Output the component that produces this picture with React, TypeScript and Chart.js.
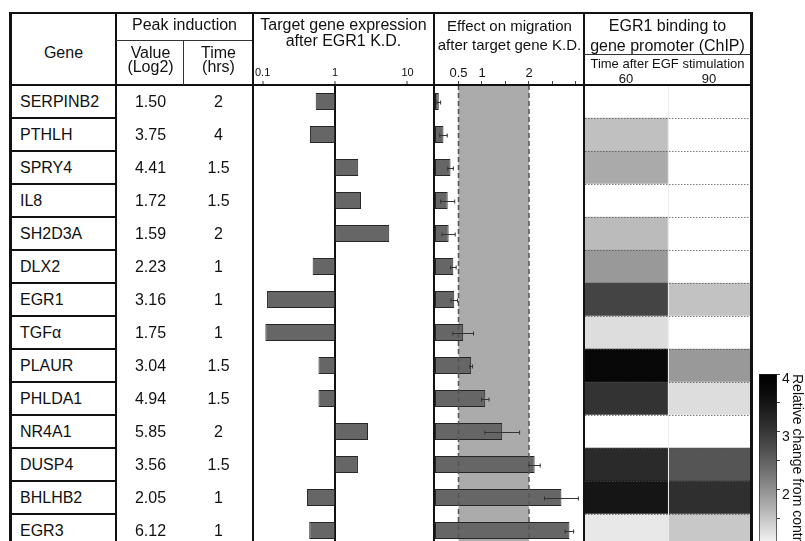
import React, { useEffect, useRef } from 'react';
import { Chart, registerables } from 'chart.js';

Chart.register(...registerables);

const FONT = "'Liberation Sans', Arial, Helvetica, sans-serif";
Chart.defaults.font.family = FONT;
Chart.defaults.color = '#111';

// ---------------- data ----------------
const genes = ['SERPINB2', 'PTHLH', 'SPRY4', 'IL8', 'SH2D3A', 'DLX2', 'EGR1', 'TGFα', 'PLAUR', 'PHLDA1', 'NR4A1', 'DUSP4', 'BHLHB2', 'EGR3'];
const peakValues = [1.5, 3.75, 4.41, 1.72, 1.59, 2.23, 3.16, 1.75, 3.04, 4.94, 5.85, 3.56, 2.05, 6.12];
const peakTimes = [2, 4, 1.5, 1.5, 2, 1, 1, 1, 1.5, 1.5, 2, 1.5, 1, 1];

// target gene expression after EGR1 K.D. (fold, log axis, bars from 1)
const expression = [0.54, 0.45, 2.09, 2.28, 5.6, 0.49, 0.115, 0.109, 0.59, 0.59, 2.85, 2.07, 0.41, 0.44];
const expressionBase = 1;
const expressionTicks = [0.1, 1, 10];

// effect on migration after target gene K.D.
const migration = [0.08, 0.18, 0.33, 0.27, 0.29, 0.39, 0.41, 0.6, 0.77, 1.07, 1.43, 2.12, 2.69, 2.86];
const migrationErr = [0.04, 0.08, 0.06, 0.15, 0.14, 0.06, 0.07, 0.22, 0.03, 0.08, 0.37, 0.12, 0.36, 0.09];
const migrationTicks = [0.5, 1, 1.5, 2, 2.5, 3];
const migrationLabels = [0.5, 1, 2];
const migrationBand = [0.5, 2];

// EGR1 binding (ChIP), relative change from control
const chipTimes = ['60', '90'];
const chip60 = [1, 1.55, 1.75, 1, 1.6, 1.92, 2.83, 1.29, 3.75, 3.05, 1, 3.17, 3.5, 1.2];
const chip90 = [1, 1, 1, 1, 1, 1, 1.53, 1, 1.92, 1.29, 1, 2.63, 3.1, 1.48];
const colorbarRange = [1, 4];
const colorbarTicks = [1, 1.5, 2, 2.5, 3, 3.5, 4];
const colorbarLabels = [1, 2, 3, 4];

// ---------------- helpers ----------------
const GAMMA = 1.4;
function grayLevel(v: number) {
  const t = Math.min(1, Math.max(0, (colorbarRange[1] - v) / (colorbarRange[1] - colorbarRange[0])));
  return Math.round(255 * Math.pow(t, GAMMA));
}
function gray(v: number) {
  const g = grayLevel(v);
  return `rgb(${g},${g},${g})`;
}

function ChartBox({ left, top, width, height, make }: any) {
  const ref = useRef<HTMLCanvasElement>(null);
  useEffect(() => {
    let chart: any = null;
    try {
      chart = new Chart(ref.current as HTMLCanvasElement, make());
    } catch (e) {
      console.error(e);
    }
    return () => {
      if (chart) chart.destroy();
    };
  }, []);
  return (
    <canvas
      ref={ref}
      width={width}
      height={height}
      style={{ position: 'absolute', left, top, width, height, display: 'block' }}
    />
  );
}

function Txt({ cx, x, cy, size = 16, lh = 16, children, align }: any) {
  const capOff = (lh - size * 1.117) / 2 + size * 0.905 - size * 0.358;
  const top = cy - capOff;
  if (align === 'left') {
    return (
      <div style={{ position: 'absolute', left: x, top, fontSize: size, lineHeight: `${lh}px`, whiteSpace: 'nowrap' }}>
        {children}
      </div>
    );
  }
  return (
    <div
      style={{
        position: 'absolute',
        left: cx - 150,
        width: 300,
        top,
        fontSize: size,
        lineHeight: `${lh}px`,
        textAlign: 'center',
        whiteSpace: 'nowrap',
      }}
    >
      {children}
    </div>
  );
}

function Rule({ l, t, w, h, c = '#111' }: any) {
  return <div style={{ position: 'absolute', left: l, top: t, width: w, height: h, background: c }} />;
}

const noPlugins = { legend: { display: false }, tooltip: { enabled: false }, title: { display: false } };

// ---------------- chart configs ----------------
function makeExpression() {
  return {
    type: 'bar',
    data: {
      labels: genes,
      datasets: [
        {
          data: expression.map((v) => [expressionBase, v]),
          backgroundColor: '#666666',
          borderColor: '#262626',
          borderWidth: 1,
          borderSkipped: false,
          barPercentage: 0.52,
          categoryPercentage: 1,
        },
      ],
    },
    options: {
      indexAxis: 'y',
      animation: false,
      responsive: false,
      events: [],
      layout: { padding: 0 },
      plugins: noPlugins,
      scales: {
        x: {
          type: 'logarithmic',
          position: 'top',
          min: 0.0763,
          max: 22.5,
          afterBuildTicks: (s: any) => {
            s.ticks = expressionTicks.map((v) => ({ value: v }));
          },
          afterFit: (s: any) => {
            s.height = 30;
          },
          ticks: {
            callback: (v: any) => String(v),
            font: { size: 11 },
            color: '#111',
            padding: 1,
            autoSkip: false,
            maxRotation: 0,
          },
          grid: {
            color: (ctx: any) => (ctx.tick && ctx.tick.value === expressionBase ? '#111' : 'rgba(0,0,0,0)'),
            lineWidth: 2,
            tickColor: '#333',
            tickLength: 4,
            tickWidth: 1,
          },
          border: { display: true, color: '#111', width: 2 },
        },
        y: { type: 'category', display: false },
      },
    },
  };
}

const migrationDecor = {
  id: 'migrationDecor',
  beforeDatasetsDraw(chart: any) {
    const { ctx, chartArea, scales } = chart;
    const x = scales.x;
    const x0 = x.getPixelForValue(migrationBand[0]);
    const x1 = x.getPixelForValue(migrationBand[1]);
    ctx.save();
    ctx.fillStyle = '#ababab';
    ctx.fillRect(x0, chartArea.top, x1 - x0, chartArea.bottom - chartArea.top);
    ctx.restore();
  },
  afterDatasetsDraw(chart: any) {
    const { ctx, chartArea, scales } = chart;
    const x = scales.x;
    ctx.save();
    ctx.strokeStyle = '#555';
    ctx.lineWidth = 1.5;
    ctx.setLineDash([5, 3]);
    migrationBand.forEach((v) => {
      const px = x.getPixelForValue(v);
      ctx.beginPath();
      ctx.moveTo(px, chartArea.top);
      ctx.lineTo(px, chartArea.bottom);
      ctx.stroke();
    });
    ctx.setLineDash([]);
    ctx.strokeStyle = '#333';
    ctx.lineWidth = 1;
    const meta = chart.getDatasetMeta(0);
    meta.data.forEach((bar: any, i: number) => {
      const y = Math.round(bar.y) + 0.5;
      const xl = x.getPixelForValue(migration[i] - migrationErr[i]);
      const xr = x.getPixelForValue(migration[i] + migrationErr[i]);
      ctx.beginPath();
      ctx.moveTo(xl, y);
      ctx.lineTo(xr, y);
      ctx.moveTo(xl, y - 2);
      ctx.lineTo(xl, y + 2);
      ctx.moveTo(xr, y - 2);
      ctx.lineTo(xr, y + 2);
      ctx.stroke();
    });
    ctx.restore();
  },
};

function makeMigration() {
  return {
    type: 'bar',
    data: {
      labels: genes,
      datasets: [
        {
          data: migration,
          backgroundColor: '#666666',
          borderColor: '#262626',
          borderWidth: 1,
          borderSkipped: false,
          barPercentage: 0.52,
          categoryPercentage: 1,
        },
      ],
    },
    plugins: [migrationDecor],
    options: {
      indexAxis: 'y',
      animation: false,
      responsive: false,
      events: [],
      layout: { padding: 0 },
      plugins: noPlugins,
      scales: {
        x: {
          type: 'linear',
          position: 'top',
          min: 0,
          max: 3.149,
          afterBuildTicks: (s: any) => {
            s.ticks = migrationTicks.map((v) => ({ value: v }));
          },
          afterFit: (s: any) => {
            s.height = 30;
          },
          ticks: {
            callback: (v: any) => (migrationLabels.includes(v) ? String(v) : ''),
            font: { size: 13 },
            color: '#111',
            padding: 0,
            autoSkip: false,
            maxRotation: 0,
          },
          grid: {
            drawOnChartArea: false,
            tickColor: '#444',
            tickLength: 4,
            tickWidth: 1,
          },
          border: { display: true, color: '#111', width: 2 },
        },
        y: { type: 'category', display: false },
      },
    },
  };
}

const heatDecor = {
  id: 'heatDecor',
  afterDatasetsDraw(chart: any) {
    const { ctx, chartArea, scales } = chart;
    const y = scales.y;
    const x = scales.x;
    const step = y.getPixelForValue(1) - y.getPixelForValue(0);
    ctx.save();
    ctx.strokeStyle = 'rgba(235,235,235,1)';
    ctx.lineWidth = 1;
    const xm = Math.round(x.getPixelForValue(1)) + 0.5;
    ctx.beginPath();
    ctx.moveTo(xm, chartArea.top);
    ctx.lineTo(xm, chartArea.bottom);
    ctx.stroke();
    ctx.strokeStyle = 'rgba(80,80,80,0.75)';
    ctx.setLineDash([1.5, 1.5]);
    for (let i = 0; i < genes.length; i++) {
      const yy = Math.round(y.getPixelForValue(i) + step / 2) + 0.5;
      ctx.beginPath();
      ctx.moveTo(chartArea.left, yy);
      ctx.lineTo(chartArea.right, yy);
      ctx.stroke();
    }
    ctx.restore();
  },
};

function makeHeat() {
  const cols = [chip60, chip90];
  return {
    type: 'bar',
    data: {
      labels: genes,
      datasets: cols.map((vals, ci) => ({
        label: chipTimes[ci],
        data: vals.map(() => [ci, ci + 1]),
        backgroundColor: vals.map((v) => gray(v)),
        borderWidth: 0,
        barPercentage: 1,
        categoryPercentage: 1,
        grouped: false,
      })),
    },
    plugins: [heatDecor],
    options: {
      indexAxis: 'y',
      animation: false,
      responsive: false,
      events: [],
      layout: { padding: 0 },
      plugins: noPlugins,
      scales: {
        x: { type: 'linear', min: 0, max: chipTimes.length, display: false },
        y: { type: 'category', display: false },
      },
    },
  };
}

function makeColorbar() {
  return {
    type: 'bar',
    data: {
      labels: ['scale'],
      datasets: [
        {
          data: [colorbarRange],
          backgroundColor: (c: any) => {
            const chart = c.chart;
            const y = chart.scales && chart.scales.y;
            if (!y || !chart.chartArea) return '#888';
            const p0 = y.getPixelForValue(colorbarRange[0]);
            const p1 = y.getPixelForValue(colorbarRange[1]);
            if (!isFinite(p0) || !isFinite(p1) || p0 === p1) return '#888';
            const g = chart.ctx.createLinearGradient(0, p0, 0, p1);
            for (let k = 0; k <= 20; k++) {
              const f = k / 20;
              const lv = grayLevel(colorbarRange[0] + f * (colorbarRange[1] - colorbarRange[0]));
              g.addColorStop(f, `rgb(${lv},${lv},${lv})`);
            }
            return g;
          },
          borderColor: '#222',
          borderWidth: 1,
          borderSkipped: false,
          barPercentage: 1,
          categoryPercentage: 1,
        },
      ],
    },
    options: {
      animation: false,
      responsive: false,
      events: [],
      layout: { padding: { top: 14, bottom: 10, left: 0, right: 0 } },
      plugins: noPlugins,
      scales: {
        x: { type: 'category', display: false },
        y: {
          type: 'linear',
          position: 'right',
          min: colorbarRange[0],
          max: colorbarRange[1],
          afterBuildTicks: (s: any) => {
            s.ticks = colorbarTicks.map((v) => ({ value: v }));
          },
          afterFit: (s: any) => {
            s.width = 28;
          },
          ticks: {
            callback: (v: any) => (colorbarLabels.includes(v) ? String(v) : ''),
            font: { size: 14 },
            color: '#111',
            padding: 2,
            labelOffset: 5,
            autoSkip: false,
          },
          grid: { drawOnChartArea: false, tickLength: 3, color: '#444' },
          border: { display: false },
          title: {
            display: true,
            text: 'Relative change from control',
            align: 'end',
            font: { size: 14 },
            color: '#111',
            padding: 0,
          },
        },
      },
    },
  };
}

// ---------------- layout ----------------
export default function App() {
  const rowTop = (i: number) => 85 + 33 * i;
  const rowCenter = (i: number) => rowTop(i) + 16.5;
  return (
    <div
      style={{
        position: 'fixed',
        left: 0,
        top: 0,
        width: 805,
        height: 541,
        overflow: 'hidden',
        background: '#fff',
        fontFamily: FONT,
        color: '#111',
      }}
    >
      <ChartBox left={254} top={55} width={179} height={492} make={makeExpression} />
      <ChartBox left={435} top={55} width={148} height={492} make={makeMigration} />
      <ChartBox left={585} top={85} width={165} height={462} make={makeHeat} />
      <ChartBox left={759} top={360} width={46} height={198} make={makeColorbar} />

      <Txt cx={63.5} cy={53}>Gene</Txt>
      <Txt cx={184.5} cy={25}>Peak induction</Txt>
      <Txt cx={150.5} cy={53} lh={14}>
        Value
        <br />
        (Log2)
      </Txt>
      <Txt cx={218.5} cy={53} lh={14}>
        Time
        <br />
        (hrs)
      </Txt>
      <Txt cx={343.5} cy={25} lh={16}>
        Target gene expression
        <br />
        after EGR1 K.D.
      </Txt>
      <Txt cx={509.5} cy={25} size={15} lh={19}>
        Effect on migration
        <br />
        after target gene K.D.
      </Txt>
      <Txt cx={667.5} cy={26} lh={20}>
        EGR1 binding to
        <br />
        gene promoter (ChIP)
      </Txt>
      <Txt cx={667.5} cy={63} size={13} lh={13}>
        Time after EGF stimulation
      </Txt>
      <Txt cx={626} cy={78} size={13} lh={13}>
        {chipTimes[0]}
      </Txt>
      <Txt cx={709} cy={78} size={13} lh={13}>
        {chipTimes[1]}
      </Txt>

      {genes.map((g, i) => (
        <React.Fragment key={g}>
          <Txt x={20} cy={rowCenter(i)} align="left">
            {g}
          </Txt>
          <Txt cx={150.5} cy={rowCenter(i)}>
            {peakValues[i].toFixed(2)}
          </Txt>
          <Txt cx={218.5} cy={rowCenter(i)}>
            {String(peakTimes[i])}
          </Txt>
        </React.Fragment>
      ))}

      <Rule l={9} t={12} w={744} h={2} />
      <Rule l={9} t={12} w={3} h={541} />
      <Rule l={750} t={12} w={3} h={541} />
      <Rule l={9} t={84} w={744} h={2} />
      <Rule l={115} t={12} w={2} h={541} />
      <Rule l={116} t={40} w={137} h={1} c="#333" />
      <Rule l={183} t={40} w={1} h={45} c="#333" />
      <Rule l={252} t={12} w={2} h={541} />
      <Rule l={433} t={12} w={2} h={541} />
      <Rule l={583} t={12} w={2} h={541} />
      <Rule l={584} t={54} w={167} h={1} c="#333" />
      {genes.slice(1).map((g, i) => (
        <Rule key={'r' + g} l={9} t={rowTop(i + 1) - 1} w={107} h={2} />
      ))}
    </div>
  );
}
